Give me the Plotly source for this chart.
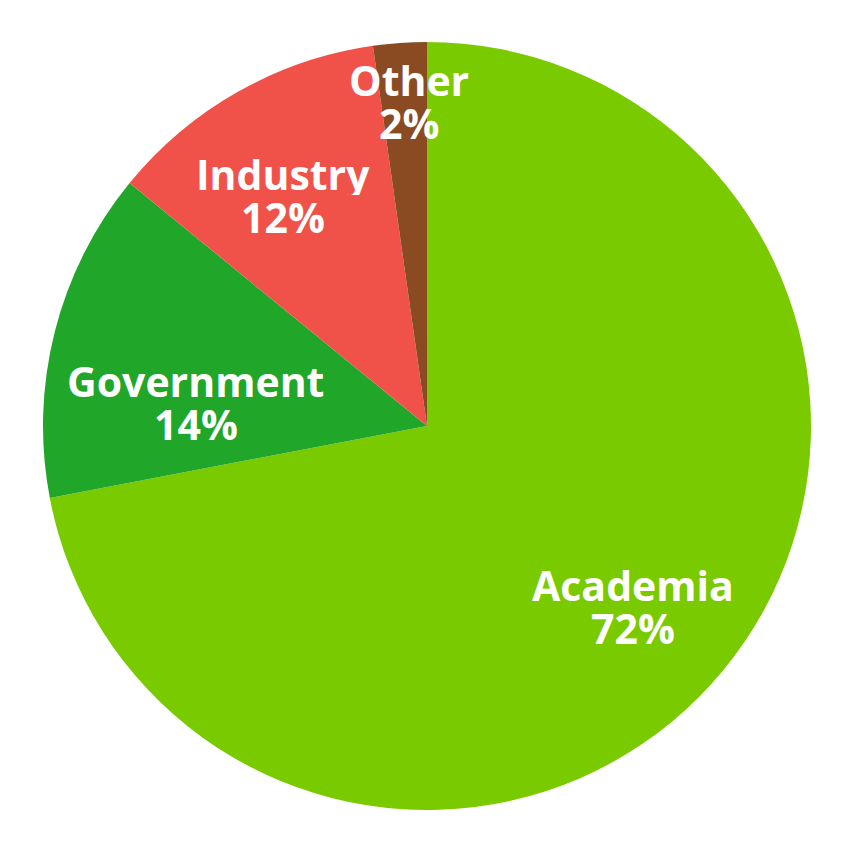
import math
import plotly.graph_objects as go

labels = ["Academia", "Government", "Industry", "Other"]
values = [72.0, 13.9, 11.85, 2.25]
colors = ["#7aca00", "#20a628", "#f0524a", "#8a4b22"]

# label placement style: radial fraction of radius, plus pixel nudges
label_radius = [0.714, 0.60, 0.711, 0.848]
label_nudge = [(-5, 6), (-8, 33), (-10, 7), (5, 0)]

W, H = 854, 852
ML, MR, MT, MB = 35, 51, 34, 50
PW, PH = W - ML - MR, H - MT - MB
R = min(PW, PH) / 2

fig = go.Figure(go.Pie(
    labels=labels,
    values=values,
    sort=False,
    direction="clockwise",
    rotation=0,
    marker=dict(colors=colors, line=dict(width=0)),
    textinfo="none",
    hoverinfo="label+percent",
    showlegend=False,
))

total = sum(values)
cum = 0
font = dict(family="Open Sans", size=41, color="white", weight="bold")
for lab, v, f, (nx, ny) in zip(labels, values, label_radius, label_nudge):
    mid = (cum + v / 2) / total * 2 * math.pi
    cum += v
    dx = R * f * math.sin(mid) + nx
    dy = -R * f * math.cos(mid) + ny  # downward positive
    xp = 0.5 + dx / PW
    yc = 0.5 - dy / PH
    pct = f"{round(100 * v / total)}%"
    for txt, off in ((lab, -21.5), (pct, 21.5)):
        fig.add_annotation(
            x=xp, y=yc - off / PH, xref="paper", yref="paper",
            text=txt, showarrow=False, font=font,
            xanchor="center", yanchor="middle",
            height=42, borderpad=0, valign="middle",
        )

fig.update_layout(
    width=W, height=H,
    margin=dict(l=ML, r=MR, t=MT, b=MB),
    paper_bgcolor="white",
)

fig.write_html("out.html")
